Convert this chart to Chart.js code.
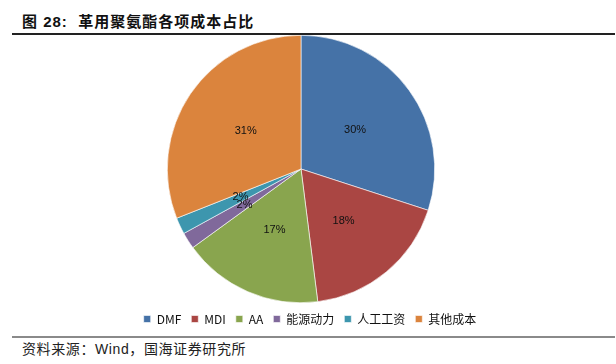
<!DOCTYPE html>
<html><head><meta charset="utf-8">
<script src="https://cdn.jsdelivr.net/npm/chart.js@4"></script>
<style>
html,body{margin:0;padding:0;background:#fff;width:616px;height:364px;overflow:hidden;position:relative;font-family:"Liberation Sans","Noto Sans CJK SC",sans-serif;}
#title{position:absolute;left:22px;top:10px;font-size:15px;font-weight:bold;color:#111;font-family:"Liberation Sans","Noto Sans CJK SC",sans-serif;letter-spacing:1px;}
#line1{position:absolute;left:12px;top:33px;width:603px;height:2px;background:#222;}
#line2{position:absolute;left:12px;top:336px;width:603px;height:2px;background:#8a8a8a;}
#src{position:absolute;left:22px;top:338px;font-size:14px;letter-spacing:0.6px;color:#222;}
#wrap{position:absolute;left:0;top:35px;width:616px;height:300px;}
</style></head>
<body>
<div id="title">图 28:&nbsp; 革用聚氨酯各项成本占比</div>
<div id="line1"></div>
<div id="wrap"><canvas id="c"></canvas></div>
<div id="line2"></div>
<div id="src">资料来源：Wind，国海证券研究所</div>
<script>
const categories = ["DMF", "MDI", "AA", "能源动力", "人工工资", "其他成本"];
const shares = [30, 18, 17, 2, 2, 31];
const sliceColors = ["#4572A7", "#AA4643", "#89A54E", "#80699B", "#3D96AE", "#DB843D"];

const labelPlugin = {
  id: 'pctLabels',
  afterLayout(chart) {
    if (chart.legend) { chart.legend.left += 9; chart.legend.right += 9; }
  },
  afterDatasetsDraw(chart) {
    const ctx = chart.ctx;
    const meta = chart.getDatasetMeta(0);
    ctx.save();
    ctx.font = '11px "Liberation Sans", Arial, sans-serif';
    ctx.fillStyle = '#111';
    ctx.textAlign = 'center';
    ctx.textBaseline = 'middle';
    meta.data.forEach((arc, i) => {
      const p = arc.tooltipPosition();
      ctx.fillText(shares[i] + '%', p.x, p.y);
    });
    ctx.restore();
  }
};

new Chart(document.getElementById('c'), {
  type: 'pie',
  data: {
    labels: categories,
    datasets: [{
      data: shares,
      backgroundColor: sliceColors,
      borderColor: '#ffffff',
      borderWidth: 0.6
    }]
  },
  options: {
    responsive: true,
    maintainAspectRatio: false,
    animation: false,
    layout: { padding: { left: 0, right: 14, top: 0, bottom: 0 } },
    plugins: {
      legend: {
        position: 'bottom',
        labels: {
          boxWidth: 7, boxHeight: 7,
          padding: 10,
          color: '#111',
          font: { size: 12, family: '"Liberation Sans Narrow","Noto Sans CJK SC", sans-serif' }
        }
      },
      tooltip: { enabled: false }
    }
  },
  plugins: [labelPlugin]
});
</script>
</body></html>
